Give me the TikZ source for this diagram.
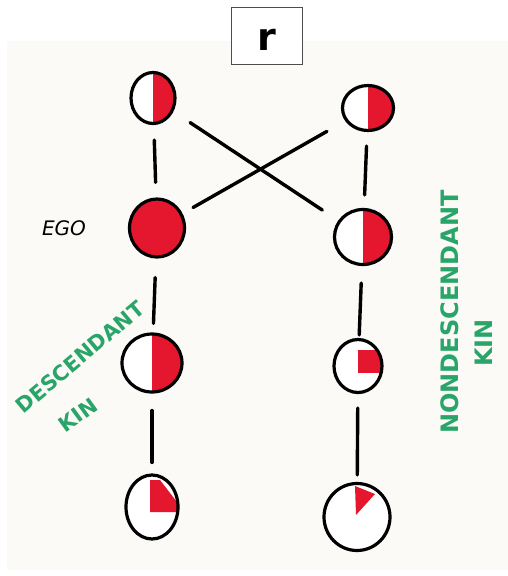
\documentclass[tikz,border=0pt]{standalone}
\usepackage{fontspec}
\usepackage{tikz}
\usetikzlibrary{shapes.geometric}
\newfontfamily\handfont{DejaVu Sans}
\definecolor{kinred}{HTML}{E5172F}
\definecolor{kingreen}{HTML}{2AA56A}
\definecolor{paper}{HTML}{FBFAF6}

\begin{document}
\begin{tikzpicture}[x=1pt,y=-1pt,
  person/.style={ellipse,draw=black,line width=3.2pt,fill=white,inner sep=0pt},
  half/.style={path picture={\fill[kinred] (path picture bounding box.north) rectangle (path picture bounding box.south east);}},
  tie/.style={line width=3.4pt,line cap=round},
  green label/.style={text=kingreen,inner sep=0pt,font=\handfont\bfseries\fontsize{21}{21}\selectfont},
  green big/.style={text=kingreen,inner sep=0pt,font=\handfont\bfseries\fontsize{24}{24}\selectfont}]
  \useasboundingbox (0,0) rectangle (508,576);
  \fill[paper] (7,41) rectangle (508,570);
  \node[draw=black!70,line width=0.8pt,fill=white,minimum width=71pt,minimum height=57pt,
    text height=29pt,text depth=0pt,font=\handfont\bfseries\fontsize{38}{38}\selectfont] (title) at (266.5,35.5) {r};
  % left column: ego and descendants
  \node[person,half,minimum width=44pt,minimum height=51pt] (p1) at (153,98) {};
  \node[person,fill=kinred,minimum width=55pt,minimum height=58pt] (ego) at (157,228) {};
  \node[person,half,minimum width=60pt,minimum height=58pt] (d1) at (152,363) {};
  \node[person,minimum width=52pt,minimum height=64pt,
    path picture={\fill[kinred] ([shift={(-2,5)}]path picture bounding box.center) -- ++(0,-32) -- ++(10,0) -- ++(17,22) -- ++(0,10) -- cycle;}] (d2) at (152,507) {};
  % right column: nondescendant kin
  \node[person,half,minimum width=51pt,minimum height=45pt] (q1) at (368,108) {};
  \node[person,half,minimum width=57pt,minimum height=55pt] (q2) at (363,237) {};
  \node[person,minimum width=48pt,minimum height=53pt,
    path picture={\fill[kinred] ([shift={(0,7)}]path picture bounding box.center) -- ++(0,-23) -- ++(26,0) -- ++(0,23) -- cycle;}] (n1) at (358,366) {};
  \node[person,minimum width=66pt,minimum height=67pt,
    path picture={\fill[kinred] ([shift={(-2,-31)}]path picture bounding box.center) -- ++(20,8) -- ++(-19,21) -- cycle;}] (n2) at (357,517) {};
  % links
  \draw[tie,shorten <=15pt,shorten >=15pt] (p1) -- (ego);
  \draw[tie,shorten <=19pt,shorten >=9pt] (ego) -- (d1);
  \draw[tie,shorten <=17pt,shorten >=11pt] (d1) -- (d2);
  \draw[tie,shorten <=14pt,shorten >=13pt] (q1) -- (q2);
  \draw[tie,shorten <=17pt,shorten >=3pt] (q2) -- (n1);
  \draw[tie,shorten <=14pt,shorten >=7pt] (n1) -- (n2);
  \draw[tie,shorten <=20pt,shorten >=19pt] (p1) -- (q2);
  \draw[tie,shorten <=12pt,shorten >=21pt] (ego) -- (q1);
  % labels
  \node[font=\handfont\itshape\fontsize{20}{20}\selectfont] (egolabel) at (64,228) {EGO};
  \node[green label,rotate=40] (desc) at (80,357) {DESCENDANT};
  \node[green label,rotate=36] (desckin) at (78,415) {KIN};
  \node[green big,rotate=90] (nondesc) at (450,312) {NONDESCENDANT};
  \node[green big,rotate=90] (nondesckin) at (484,343) {KIN};
\end{tikzpicture}
\end{document}
